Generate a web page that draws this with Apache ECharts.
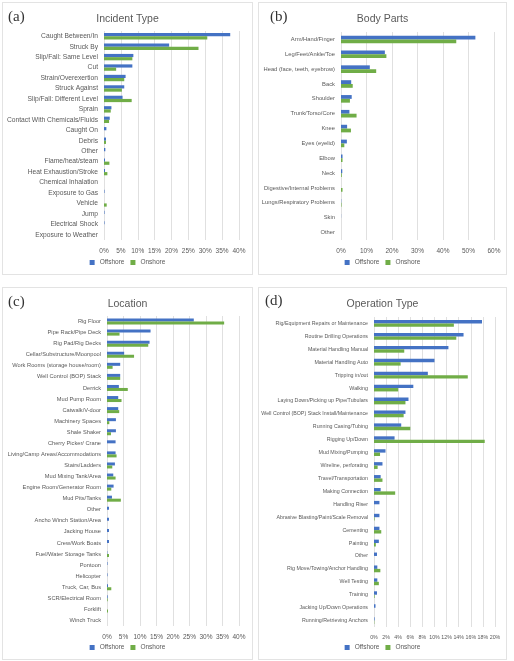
<!DOCTYPE html>
<html>
<head>
<meta charset="utf-8">
<script src="https://cdn.jsdelivr.net/npm/echarts@6/dist/echarts.min.js"></script>
<style>
  body { margin: 0; background: #fff; width: 514px; height: 661px; position: relative; overflow: hidden; }
  .panel { position: absolute; border: 1px solid #e3e3e3; box-sizing: border-box; }
  .tag { position: absolute; font-family: "Liberation Serif", "DejaVu Serif", serif; font-size: 15px; color: #333; }
</style>
</head>
<body>
<div class="panel" id="pa" style="left:2px;top:2px;width:251px;height:273px"></div>
<div class="panel" id="pb" style="left:258px;top:2px;width:249px;height:273px"></div>
<div class="panel" id="pc" style="left:2px;top:287px;width:251px;height:373px"></div>
<div class="panel" id="pd" style="left:258px;top:287px;width:249px;height:373px"></div>
<div class="tag" style="left:8px;top:8px">(a)</div>
<div class="tag" style="left:270px;top:8px">(b)</div>
<div class="tag" style="left:8px;top:293px">(c)</div>
<div class="tag" style="left:265px;top:292px">(d)</div>

<script>
// (a) Incident Type
const incidentCats = ['Caught Between/In', 'Struck By', 'Slip/Fall: Same Level', 'Cut', 'Strain/Overexertion',
  'Struck Against', 'Slip/Fall: Different Level', 'Sprain', 'Contact With Chemicals/Fluids', 'Caught On',
  'Debris', 'Other', 'Flame/heat/steam', 'Heat Exhaustion/Stroke', 'Chemical Inhalation',
  'Exposure to Gas', 'Vehicle', 'Jump', 'Electrical Shock', 'Exposure to Weather']
const incidentOff = [37.4, 19.3, 8.7, 8.4, 6.4, 6.0, 5.5, 2.2, 1.7, 0.7, 0.6, 0.4, 0.3, 0.3, 0, 0.15, 0, 0.15, 0.15, 0]
const incidentOn  = [30.6, 28.0, 8.4, 3.6, 6.0, 5.3, 8.2, 2.0, 1.5, 0, 0.6, 0, 1.6, 1.0, 0, 0, 0.8, 0, 0, 0]

// (b) Body Parts
const bodyCats = ['Arm/Hand/Finger', 'Leg/Feet/Ankle/Toe', 'Head (face, teeth, eyebrow)', 'Back', 'Shoulder',
  'Trunk/Torso/Core', 'Knee', 'Eyes (eyelid)', 'Elbow', 'Neck', 'Digestive/Internal Problems',
  'Lungs/Respiratory Problems', 'Skin', 'Other']
const bodyOff = [52.7, 17.2, 11.3, 4.0, 4.2, 3.3, 2.4, 2.3, 0.6, 0.5, 0, 0.1, 0.05, 0]
const bodyOn  = [45.2, 17.8, 13.8, 4.6, 3.5, 6.1, 3.9, 1.3, 0.6, 0.3, 0.6, 0.2, 0, 0]

// (c) Location
const locationCats = ['Rig Floor', 'Pipe Rack/Pipe Deck', 'Rig Pad/Rig Decks', 'Cellar/Substructure/Moonpool',
  'Work Rooms (storage house/room)', 'Well Control (BOP) Stack', 'Derrick', 'Mud Pump Room', 'Catwalk/V-door',
  'Machinery Spaces', 'Shale Shaker', 'Cherry Picker/ Crane', 'Living/Camp Areas/Accommodations',
  'Stairs/Ladders', 'Mud Mixing Tank/Area', 'Engine Room/Generator Room', 'Mud Pits/Tanks', 'Other',
  'Ancho Winch Station/Area', 'Jacking House', 'Crew/Work Boats', 'Fuel/Water Storage Tanks', 'Pontoon',
  'Helicopter', 'Truck, Car, Bus', 'SCR/Electrical Room', 'Forklift', 'Winch Truck']
const locationOff = [26.3, 13.2, 12.9, 5.2, 4.0, 4.0, 3.6, 3.4, 3.4, 2.7, 2.7, 2.6, 2.6, 2.4, 1.9, 2.0, 1.5,
  0.6, 0.6, 0.6, 0.6, 0.1, 0.15, 0.15, 0.3, 0.2, 0, 0]
const locationOn  = [35.5, 3.8, 12.5, 8.2, 1.7, 4.0, 6.3, 4.4, 3.7, 0.7, 1.2, 0, 2.9, 1.6, 2.6, 1.3, 4.2,
  0, 0, 0, 0, 0.6, 0, 0, 1.3, 0.2, 0.3, 0]

// (d) Operation Type
const operationCats = ['Rig/Equipment Repairs or Maintenance', 'Routine Drilling Operations', 'Material Handling Manual',
  'Material Handling Auto', 'Tripping in/out', 'Walking', 'Laying Down/Picking up Pipe/Tubulars',
  'Well Control (BOP) Stack Install/Maintenance', 'Running Casing/Tubing', 'Rigging Up/Down', 'Mud Mixing/Pumping',
  'Wireline, perforating', 'Travel/Transportation', 'Making Connection', 'Handling Riser',
  'Abrasive Blasting/Paint/Scale Removal', 'Cementing', 'Painting', 'Other', 'Rig Move/Towing/Anchor Handling',
  'Well Testing', 'Training', 'Jacking Up/Down Operations', 'Running/Retrieving Anchors']
const operationOff = [17.85, 14.8, 12.3, 10.0, 8.9, 6.5, 5.7, 5.2, 4.5, 3.4, 1.9, 1.4, 1.1, 1.1, 0.9, 0.9, 0.9,
  0.8, 0.5, 0.55, 0.55, 0.5, 0.25, 0.1]
const operationOn  = [13.2, 13.6, 5.0, 4.4, 15.5, 4.0, 5.2, 4.9, 6.0, 18.3, 1.0, 0.6, 1.4, 3.5, 0, 0.1, 1.2,
  0.3, 0, 1.05, 0.8, 0.1, 0, 0.05]

const xTicksA = [0, 40, 5]
const xTicksB = [0, 60, 10]
const xTicksD = [0, 20, 2]

const colors = ['#4472C4', '#70AD47']
const labelFont = '"Liberation Sans", "DejaVu Sans", sans-serif'

function makeOption(title, cats, off, on, ticks, grid, catSize, barW, tickSize) {
  grid.outerBoundsMode = 'none'
  grid.containLabel = false
  return {
    color: colors,
    animation: false,
    title: {
      text: title, left: 'center', top: 6,
      textStyle: { fontFamily: labelFont, fontSize: 10.5, fontWeight: 'normal', color: '#595959' }
    },
    legend: {
      bottom: 3, left: 'center', icon: 'rect', itemWidth: 5, itemHeight: 5, itemGap: 6,
      textStyle: { fontFamily: labelFont, fontSize: 6.5, color: '#595959' },
      data: ['Offshore', 'Onshore']
    },
    grid: grid,
    xAxis: {
      type: 'value', min: ticks[0], max: ticks[1], interval: ticks[2],
      axisLine: { show: false }, axisTick: { show: false },
      axisLabel: { formatter: '{value}%', fontFamily: labelFont, fontSize: tickSize, color: '#595959', margin: 8,
        hideOverlap: false, showMaxLabel: true, showMinLabel: true },
      splitLine: { lineStyle: { color: '#e0e0e0', width: 1 } }
    },
    yAxis: {
      type: 'category', data: cats, inverse: true,
      axisLine: { show: false }, axisTick: { show: false },
      axisLabel: { interval: 0, fontFamily: labelFont, fontSize: catSize, color: '#595959', margin: 6 }
    },
    series: [
      { name: 'Offshore', type: 'bar', data: off, barWidth: barW, barGap: '0%' },
      { name: 'Onshore', type: 'bar', data: on, barWidth: barW, barGap: '0%' }
    ]
  }
}

const charts = [
  ['pa', 'Incident Type', incidentCats, incidentOff, incidentOn, xTicksA,
    { left: 101, right: 13, top: 28, bottom: 34 }, 6.7, 3.2, 6.5],
  ['pb', 'Body Parts', bodyCats, bodyOff, bodyOn, xTicksB,
    { left: 82, right: 12, top: 29, bottom: 34 }, 5.8, 3.8, 6.5],
  ['pc', 'Location', locationCats, locationOff, locationOn, xTicksA,
    { left: 104, right: 13, top: 28, bottom: 33 }, 5.7, 3, 6.5],
  ['pd', 'Operation Type', operationCats, operationOff, operationOn, xTicksD,
    { left: 115, right: 11, top: 29, bottom: 32 }, 5.3, 3.4, 5.3]
]

charts.forEach(c => {
  const el = document.getElementById(c[0])
  const myChart = echarts.init(el)
  myChart.setOption(makeOption(c[1], c[2], c[3], c[4], c[5], c[6], c[7], c[8], c[9]))
})
</script>
</body>
</html>
